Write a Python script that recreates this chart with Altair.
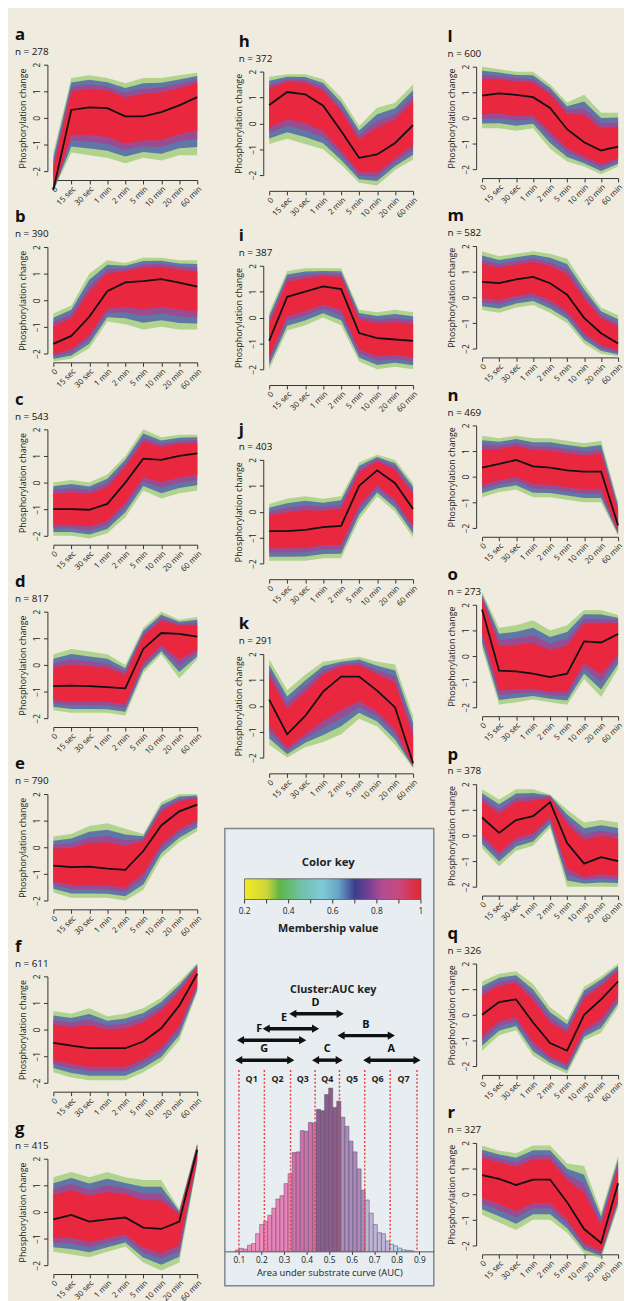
import altair as alt
import pandas as pd

FONT = "Open Sans"
TIMES = ["0", "15 sec", "30 sec", "1 min", "2 min", "5 min", "10 min", "20 min", "60 min"]

SIZES = {"a": 278, "b": 390, "c": 543, "d": 817, "e": 790, "f": 611, "g": 415,
         "h": 372, "i": 387, "j": 403, "k": 291,
         "l": 600, "m": 582, "n": 469, "o": 273, "p": 378, "q": 326, "r": 327}

# cluster centroid (black line), read per time point
MEAN = {
    "a": [-2.7, 0.3, 0.4, 0.37, 0.06, 0.06, 0.22, 0.47, 0.78],
    "b": [-1.64, -1.34, -0.62, 0.34, 0.67, 0.72, 0.79, 0.66, 0.51],
    "c": [-1.0, -1.0, -1.02, -0.8, 0.0, 0.9, 0.85, 1.0, 1.1],
    "d": [-0.8, -0.78, -0.8, -0.83, -0.88, 0.6, 1.2, 1.17, 1.06],
    "e": [-0.69, -0.75, -0.73, -0.8, -0.85, -0.14, 0.82, 1.35, 1.6],
    "f": [-0.5, -0.6, -0.7, -0.7, -0.7, -0.45, 0.05, 0.9, 2.1],
    "g": [-0.28, -0.11, -0.36, -0.28, -0.21, -0.59, -0.64, -0.36, 2.34],
    "h": [0.71, 1.21, 1.12, 0.68, -0.3, -1.33, -1.2, -0.76, -0.07],
    "i": [-0.9, 0.8, 1.0, 1.2, 1.1, -0.6, -0.8, -0.85, -0.9],
    "j": [-0.75, -0.75, -0.7, -0.6, -0.55, 1.0, 1.6, 1.1, 0.1],
    "k": [0.24, -1.1, -0.39, 0.55, 1.13, 1.13, 0.59, -0.06, -2.22],
    "l": [0.87, 0.96, 0.9, 0.81, 0.39, -0.44, -0.95, -1.27, -1.12],
    "m": [0.6, 0.55, 0.7, 0.8, 0.55, 0.1, -0.8, -1.4, -1.8],
    "n": [0.35, 0.5, 0.65, 0.4, 0.35, 0.25, 0.2, 0.2, -1.9],
    "o": [1.82, -0.57, -0.6, -0.69, -0.82, -0.69, 0.57, 0.53, 0.86],
    "p": [0.7, 0.1, 0.6, 0.75, 1.3, -0.3, -1.1, -0.85, -1.0],
    "q": [0.0, 0.5, 0.6, -0.3, -1.1, -1.4, 0.0, 0.6, 1.3],
    "r": [0.74, 0.6, 0.36, 0.57, 0.57, -0.31, -1.36, -1.9, 0.43],
}
# upper envelope of member profiles
HIGH = {
    "a": [-1.3, 1.5, 1.6, 1.5, 1.3, 1.5, 1.5, 1.6, 1.7],
    "b": [-0.5, -0.2, 1.0, 1.5, 1.4, 1.6, 1.6, 1.5, 1.5],
    "c": [0.0, 0.1, 0.0, 0.3, 1.0, 2.0, 1.7, 1.8, 1.8],
    "d": [0.4, 0.6, 0.5, 0.4, 0.0, 1.4, 2.0, 1.7, 1.8],
    "e": [0.4, 0.5, 0.8, 0.9, 0.7, 0.5, 1.7, 2.0, 2.0],
    "f": [0.7, 0.6, 0.8, 0.5, 0.6, 0.8, 1.2, 1.8, 2.5],
    "g": [1.3, 1.5, 1.3, 1.5, 1.3, 1.2, 1.2, 0.1, 2.6],
    "h": [1.8, 1.9, 1.9, 1.7, 1.0, -0.1, 0.6, 0.8, 1.5],
    "i": [0.2, 1.8, 1.9, 1.9, 1.9, 0.3, 0.2, 0.3, 0.2],
    "j": [0.3, 0.5, 0.6, 0.5, 0.6, 1.9, 2.2, 2.0, 1.1],
    "k": [1.8, 0.6, 1.2, 1.7, 1.8, 1.9, 1.7, 1.6, -0.4],
    "l": [2.0, 1.9, 1.8, 1.8, 1.3, 0.6, 0.9, 0.2, 0.2],
    "m": [1.8, 1.6, 1.7, 1.8, 1.7, 1.5, 0.5, -0.4, -0.7],
    "n": [1.6, 1.5, 1.6, 1.5, 1.5, 1.4, 1.3, 1.4, -1.0],
    "o": [2.5, 1.1, 1.2, 1.4, 1.0, 1.2, 1.8, 1.8, 1.6],
    "p": [1.8, 1.4, 1.8, 1.8, 1.6, 1.0, 0.5, 0.6, 0.5],
    "q": [1.3, 1.6, 1.7, 1.2, 0.3, -0.2, 1.1, 1.5, 2.0],
    "r": [1.9, 1.7, 1.6, 1.9, 1.9, 1.2, 1.1, -0.7, 1.5],
}
# lower envelope of member profiles
LOW = {
    "a": [-2.75, -1.3, -1.4, -1.5, -1.7, -1.5, -1.6, -1.4, -1.4],
    "b": [-2.3, -2.2, -1.8, -0.8, -0.9, -1.1, -1.0, -1.1, -1.1],
    "c": [-2.0, -2.0, -2.1, -1.9, -1.3, -0.3, -0.6, -0.4, -0.3],
    "d": [-1.7, -1.8, -1.8, -1.8, -1.9, -0.3, 0.4, -0.5, 0.2],
    "e": [-1.7, -1.9, -1.9, -1.9, -2.0, -1.6, -0.4, 0.2, 0.6],
    "f": [-1.6, -1.8, -1.9, -1.9, -1.9, -1.6, -1.2, -0.4, 1.4],
    "g": [-1.5, -1.6, -1.7, -1.5, -1.3, -1.9, -2.2, -1.9, 1.8],
    "h": [-0.8, -0.6, -0.8, -1.0, -1.6, -2.3, -2.4, -1.8, -1.4],
    "i": [-2.0, -0.5, -0.3, 0.0, -0.3, -1.7, -2.0, -1.9, -2.0],
    "j": [-1.9, -1.9, -1.9, -1.8, -1.8, -0.3, 0.6, 0.0, -1.0],
    "k": [-1.5, -2.0, -1.6, -1.4, -1.1, -0.5, -0.8, -1.5, -2.4],
    "l": [-0.4, -0.4, -0.5, -0.4, -1.2, -1.7, -1.9, -2.2, -1.9],
    "m": [-0.5, -0.6, -0.4, -0.3, -0.6, -1.0, -1.8, -2.2, -2.3],
    "n": [-0.8, -0.6, -0.5, -0.8, -0.8, -0.9, -1.0, -1.0, -2.3],
    "o": [0.3, -1.9, -1.8, -1.7, -1.8, -1.9, -0.9, -1.6, -0.5],
    "p": [-0.5, -1.2, -0.6, -0.4, 0.3, -2.0, -2.0, -2.0, -2.0],
    "q": [-1.4, -0.8, -0.6, -1.6, -2.0, -2.3, -1.0, -0.7, 0.3],
    "r": [-0.8, -1.1, -1.4, -1.0, -1.0, -1.5, -2.3, -2.5, -0.5],
}

# membership colour bands (fraction of the envelope, colour, opacity)
BANDS = [("g", 1.0, "#7cbf4a", 0.55), ("b", 0.86, "#4c5fae", 0.8),
         ("m", 0.72, "#a4458f", 0.85), ("r", 0.58, "#e9283f", 1.0)]

# AUC histogram
HIST_START = 0.084
HIST_WIDTH = 0.018
HIST_COUNTS = [4, 9, 7, 19, 24, 54, 82, 92, 110, 132, 160, 170, 207, 237, 302, 304,
               369, 367, 394, 392, 434, 430, 479, 499, 440, 459, 410, 382, 337, 304,
               252, 187, 157, 117, 82, 57, 54, 32, 22, 17, 10, 5, 3, 2]
Q_EDGES = [0.10, 0.213, 0.329, 0.438, 0.546, 0.658, 0.771, 0.890]
Q_NAMES = ["Q1", "Q2", "Q3", "Q4", "Q5", "Q6", "Q7"]
Q_COLORS = ["#ee8dc0", "#e884bb", "#cf70ae", "#8e5b90", "#a88cbb", "#bdb4d8", "#b8d9ec"]
AUC_TICKS = [0.1, 0.2, 0.3, 0.4, 0.5, 0.6, 0.7, 0.8, 0.9]

ARROW_NAMES = ["A", "B", "C", "D", "E", "F", "G"]
ARROW_START = [0.667, 0.553, 0.440, 0.339, 0.221, 0.107, 0.099]
ARROW_END = [0.890, 0.776, 0.545, 0.549, 0.440, 0.383, 0.330]
ARROW_TIER = [0.0, 0.53, 0.0, 1.0, 0.68, 0.43, 0.0]
ARROW_LABEL_AT = [0.776, 0.663, 0.492, 0.440, 0.300, 0.190, 0.212]

MEMB_TICKS = [0.2, 0.3, 0.4, 0.5, 0.6, 0.7, 0.8, 0.9, 1.0]
MEMB_LABEL_VALUES = [0.2, 0.4, 0.6, 0.8, 1.0]
MEMB_LABELS = ["0.2", "0.4", "0.6", "0.8", "1"]
GRAD_STOPS = [(0.0, "#f3ea27"), (0.125, "#cdd53a"), (0.2, "#5db547"), (0.31, "#6fc0a2"),
              (0.44, "#80cad8"), (0.53, "#68a5c6"), (0.625, "#3b3f8c"), (0.69, "#6a3f92"),
              (0.78, "#b24c94"), (0.88, "#c9487c"), (1.0, "#e3262d")]

NOVIEW = alt.ViewBackground(fill="transparent", stroke="transparent", strokeWidth=0)


def panel(letter, GW, GH, x0, PW, TP, PH, xoff, tdx):
    """GW x GH cell; plot area starts at x0 (PW px wide) and TP (PH px tall)."""
    df = pd.DataFrame({"t": TIMES, "mean": MEAN[letter], "hi": HIGH[letter], "lo": LOW[letter]})
    for name, k, _, _ in BANDS:
        df[name + "lo"] = df["mean"] - k * (df["mean"] - df["lo"])
        df[name + "hi"] = df["mean"] + k * (df["hi"] - df["mean"])
    xenc = alt.X("t:N", sort=TIMES,
                 scale=alt.Scale(type="point", padding=0, range=[x0, x0 + PW]),
                 axis=alt.Axis(title=None, labelAngle=-45, offset=(TP + PH + xoff) - GH,
                               tickSize=4, labelFontSize=8, labelPadding=1,
                               labelOverlap=False, labelColor="#222"))
    yscale = alt.Scale(domain=[-2, 2], range=[TP + PH, TP], nice=False, zero=False)
    yaxis = alt.Axis(title="Phosphorylation change", values=[-2, -1, 0, 1, 2],
                     labelAngle=-90, offset=6 - x0, tickSize=4, labelFontSize=8.5,
                     titleFontSize=9, titleFontWeight="normal", titlePadding=5,
                     labelPadding=2)
    base = alt.Chart(df)
    layers = []
    for name, k, col, op in BANDS:
        layers.append(base.mark_area(color=col, opacity=op).encode(
            x=xenc, y=alt.Y(name + "lo:Q", scale=yscale, axis=yaxis), y2=name + "hi:Q"))
    layers.append(base.mark_line(color="#111111", strokeWidth=1.8).encode(
        x=xenc, y=alt.Y("mean:Q", scale=yscale, axis=yaxis)))
    return alt.layer(*layers).properties(
        width=GW, height=GH, view=NOVIEW,
        title=alt.TitleParams(text="\u2002" + letter, subtitle="n = %d" % SIZES[letter],
                              anchor="start", frame="group", dx=x0 + tdx, offset=-(TP - 7),
                              fontSize=17, fontWeight="bold", subtitleFontSize=10,
                              subtitlePadding=3, color="#111", subtitleColor="#111"))


# ---------------- key box ----------------
KEY_W, KEY_H = 212, 464
AUC_X = alt.Scale(domain=[0.0375, 0.9643], nice=False, zero=False)
hist_df = pd.DataFrame({"count": HIST_COUNTS})
hist_df["b0"] = [HIST_START + HIST_WIDTH * i for i in range(len(HIST_COUNTS))]
hist_df["b1"] = hist_df["b0"] + HIST_WIDTH
centers = hist_df["b0"] + HIST_WIDTH / 2
hist_df["q"] = [Q_NAMES[min(6, sum(1 for e in Q_EDGES[1:] if c >= e))] for c in centers]

hist = alt.Chart(hist_df).mark_rect(stroke="#5b4b5e", strokeWidth=0.5).encode(
    x=alt.X("b0:Q", scale=AUC_X,
            axis=alt.Axis(values=AUC_TICKS, format=".1f", offset=-(KEY_H - 429), tickSize=3,
                          labelFontSize=8.5, labelPadding=1, domainColor="#555",
                          title="Area under substrate curve (AUC)", titleFontSize=9.5,
                          titleFontWeight="normal", titlePadding=4)),
    x2="b1:Q",
    y=alt.Y("count:Q", scale=alt.Scale(domain=[0, 500], range=[429, 263]), axis=None),
    y2=alt.datum(0),
    color=alt.Color("q:N", scale=alt.Scale(domain=Q_NAMES, range=Q_COLORS), legend=None),
)

q_lines = alt.Chart(pd.DataFrame({"edge": Q_EDGES})).mark_rule(
    color="#e8463c", strokeDash=[2, 2], strokeWidth=1.5).encode(
    x=alt.X("edge:Q", scale=AUC_X, axis=None), y=alt.value(245), y2=alt.value(429))

q_df = pd.DataFrame({"q": Q_NAMES,
                     "mid": [(a + b) / 2 for a, b in zip(Q_EDGES[:-1], Q_EDGES[1:])]})
q_text = alt.Chart(q_df).mark_text(fontSize=9, fontWeight="bold", color="#222").encode(
    x=alt.X("mid:Q", scale=AUC_X, axis=None), y=alt.value(254), text="q:N")

arrow_df = pd.DataFrame({"name": ARROW_NAMES, "start": ARROW_START, "end": ARROW_END,
                         "tier": ARROW_TIER, "lab": ARROW_LABEL_AT})
TIER_Y = alt.Scale(domain=[0, 1], range=[235, 188])
shaft = alt.Chart(arrow_df).mark_rule(strokeWidth=3.5, color="#111").encode(
    x=alt.X("start:Q", scale=AUC_X, axis=None), x2="end:Q",
    y=alt.Y("tier:Q", scale=TIER_Y, axis=None))
head_l = alt.Chart(arrow_df).mark_point(shape="triangle-left", filled=True, size=70,
                                        color="#111", opacity=1).encode(
    x=alt.X("start:Q", scale=AUC_X, axis=None), y=alt.Y("tier:Q", scale=TIER_Y, axis=None))
head_r = alt.Chart(arrow_df).mark_point(shape="triangle-right", filled=True, size=70,
                                        color="#111", opacity=1).encode(
    x=alt.X("end:Q", scale=AUC_X, axis=None), y=alt.Y("tier:Q", scale=TIER_Y, axis=None))
arrow_text = alt.Chart(arrow_df).mark_text(fontSize=11, fontWeight="bold", color="#111",
                                           dy=-11).encode(
    x=alt.X("lab:Q", scale=AUC_X, axis=None), y=alt.Y("tier:Q", scale=TIER_Y, axis=None),
    text="name:N")

MEMB_X = alt.Scale(domain=[0.2, 1.0], range=[20, 199], nice=False, zero=False)
grad = alt.Chart(pd.DataFrame({"lo": [0.2], "hi": [1.0]})).mark_rect(
    color=alt.Gradient(gradient="linear", x1=0, x2=1, y1=0, y2=0,
                       stops=[alt.GradientStop(offset=o, color=c) for o, c in GRAD_STOPS]),
    stroke="#555", strokeWidth=0.8).encode(
    x=alt.X("lo:Q", scale=MEMB_X, axis=None), x2="hi:Q", y=alt.value(51), y2=alt.value(72))
grad_ticks = alt.Chart(pd.DataFrame({"v": MEMB_TICKS})).mark_rule(color="#333").encode(
    x=alt.X("v:Q", scale=MEMB_X, axis=None), y=alt.value(72), y2=alt.value(76))
grad_labels = alt.Chart(pd.DataFrame({"v": MEMB_LABEL_VALUES, "s": MEMB_LABELS})).mark_text(
    fontSize=8.5, color="#222").encode(
    x=alt.X("v:Q", scale=MEMB_X, axis=None), y=alt.value(84), text="s:N")


def key_text(label, x, y, size):
    return alt.Chart(pd.DataFrame({"s": [label]})).mark_text(
        fontSize=size, fontWeight="bold", color="#222").encode(
        x=alt.value(x), y=alt.value(y), text="s:N")


key = alt.layer(
    hist, q_lines, q_text, shaft, head_l, head_r, arrow_text,
    grad, grad_ticks, grad_labels,
    key_text("Color key", 105, 35, 11.5),
    key_text("Membership value", 105, 102, 11),
    key_text("Cluster:AUC key", 110, 164, 11),
).resolve_scale(x="independent", y="independent").properties(
    width=KEY_W, height=KEY_H,
    view=alt.ViewBackground(fill="#e7edf0", stroke="#7d878c", strokeWidth=1.5))

col1 = alt.vconcat(*[panel(l, 146, 182, 0, 146, 38, 108, 9, -39) for l in "abcdefg"],
                   spacing=0)
col2 = alt.vconcat(
    *[panel(l, 212, 197, 45, 146, 45, 105, 16, -31) for l in "hij"],
    panel("k", 212, 221, 45, 146, 45, 105, 16, -31),
    key, spacing=0)
col3 = alt.vconcat(*[panel(l, 138, 182, 0, 138, 40, 104, 9, -35) for l in "lmnopqr"],
                   spacing=0)

chart = alt.hconcat(
    alt.hconcat(col1, col2, spacing=21),
    col3, spacing=13,
).properties(
    padding={"left": 7, "top": 9, "right": 0, "bottom": 0},
    background="#efebdf",
).configure_view(stroke="transparent", strokeWidth=0).configure_axis(
    labelFont=FONT, titleFont=FONT, labelColor="#222", titleColor="#222",
    domainColor="#333", tickColor="#333", grid=False,
).configure_title(font=FONT, subtitleFont=FONT).configure_text(font=FONT)

chart.save("out.html", embed_options={"renderer": "svg", "actions": False})
